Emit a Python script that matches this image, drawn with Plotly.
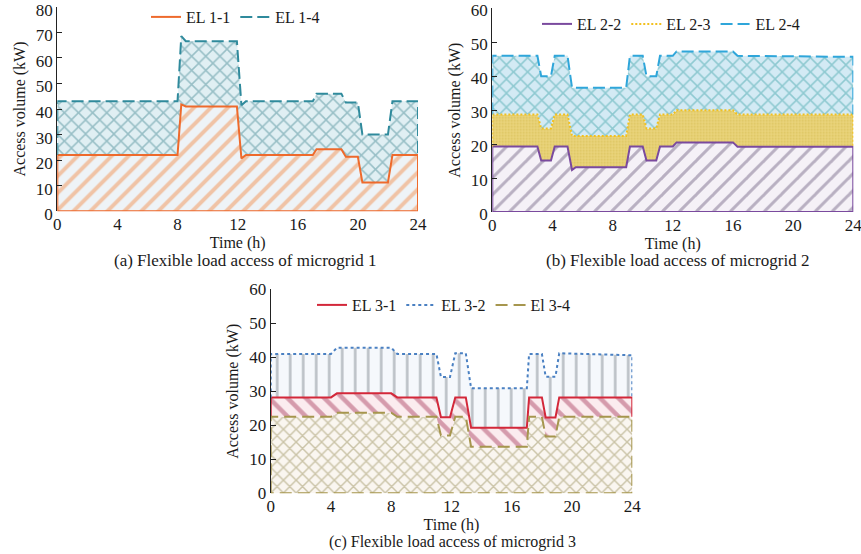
import plotly.graph_objects as go

# ---------------- data ----------------
# Panel (a) microgrid 1
t_a = [0, 8.0, 8.25, 8.55, 11.95, 12.25, 12.55, 17.0, 17.25, 18.9, 19.2, 20.0, 20.3, 22.0, 22.3, 24]
el_1_1 = [22, 22, 41.8, 41, 41, 20.7, 22, 22, 24.3, 24.3, 21.3, 21.3, 11.3, 11.3, 22, 22]
el_1_4 = [43, 43, 68.5, 66.5, 66.5, 41.5, 43, 43, 46, 46, 42.5, 42.5, 30, 30, 43, 43]

# Panel (b) microgrid 2
t_b = [0, 3.0, 3.25, 3.9, 4.15, 5.0, 5.3, 5.55, 8.9, 9.15, 10.0, 10.25, 10.9, 11.15, 12.0, 12.25, 16.0, 16.3, 24]
el_2_2 = [19.3, 19.3, 15.2, 15.2, 19.3, 19.3, 12.4, 13.2, 13.2, 19.3, 19.3, 15.2, 15.2, 19.3, 19.3, 20.5, 20.5, 19.2, 19.2]
el_2_3 = [28.7, 28.7, 24.6, 24.6, 28.7, 28.7, 22.4, 22.4, 22.4, 28.7, 28.7, 24.6, 24.6, 28.7, 28.7, 30, 30, 28.7, 28.7]
el_2_4 = [46, 46, 40, 40, 46, 46, 36.6, 36.6, 36.6, 46, 46, 40, 40, 46, 46, 47.3, 47.3, 46, 45.7]

# Panel (c) microgrid 3
t_c = [0, 4.0, 4.4, 8.0, 8.4, 11.0, 11.3, 11.9, 12.25, 12.95, 13.3, 17.0, 17.15, 18.0, 18.25, 18.9, 19.15, 24]
el_3_1 = [28.2, 28.2, 29.4, 29.4, 28.2, 28.2, 22.4, 22.4, 28.2, 28.2, 19.3, 19.3, 28.2, 28.2, 22.3, 22.3, 28.2, 28.2]
el_3_2 = [41, 41, 42.8, 42.8, 41, 41, 34.2, 34.2, 41.2, 41.2, 30.9, 30.9, 41, 41, 34.3, 34.3, 41.2, 40.6]
el_3_4 = [22.5, 22.5, 23.7, 23.7, 22.5, 22.5, 17, 17, 22.5, 22.5, 13.7, 13.7, 22.5, 22.5, 16.7, 16.7, 22.5, 22.5]

x_ticks = [0, 4, 8, 12, 16, 20, 24]
y_ticks_a = [0, 10, 20, 30, 40, 50, 60, 70, 80]
y_ticks_bc = [0, 10, 20, 30, 40, 50, 60]

captions = ["(a) Flexible load access of microgrid 1",
            "(b) Flexible load access of microgrid 2",
            "(c) Flexible load access of microgrid 3"]

FONT = "Liberation Serif"
TXT = "#1a1a1a"

fig = go.Figure()


def add_fill(t, y, xa, ya, fill, shape, fg, bg, size, solidity):
    fig.add_trace(go.Scatter(
        x=t, y=y, xaxis=xa, yaxis=ya, mode="lines", line=dict(width=0),
        fill=fill, fillcolor=bg,
        fillpattern=dict(shape=shape, fgcolor=fg, bgcolor=bg, size=size, solidity=solidity),
        showlegend=False, hoverinfo="skip"))


def add_outline(t, y, lower, xa, ya, name, color, dash, width, legend):
    if lower is None:
        xs = [t[0]] + list(t) + [t[-1], t[0]]
        ys = [0] + list(y) + [0, 0]
    else:
        xs = [t[0]] + list(t) + [t[-1]]
        ys = [lower[0]] + list(y) + [lower[-1]]
    fig.add_trace(go.Scatter(
        x=xs, y=ys, xaxis=xa, yaxis=ya, mode="lines", name=name,
        line=dict(color=color, width=width, dash=dash), legend=legend,
        hoverinfo="skip"))


# ---- panel a ----
c_or = "#ee6a2c"
c_teal = "#2f8a9c"
add_fill(t_a, el_1_1, "x", "y", "tozeroy", "/", "#f29355", "#eef3f7", 12, 0.33)
add_fill(t_a, el_1_4, "x", "y", "tonexty", "x", "#4f8f99", "#e0eff3", 10, 0.28)
add_outline(t_a, el_1_1, None, "x", "y", "EL 1-1", c_or, "solid", 2, "legend")
add_outline(t_a, el_1_4, el_1_1, "x", "y", "EL 1-4", c_teal, "12px,5px", 2, "legend")

# ---- panel b ----
c_pur = "#7a4a9e"
c_yel = "#f2c01e"
c_blu = "#2fa6da"
add_fill(t_b, el_2_2, "x2", "y2", "tozeroy", "/", "#7d6f8e", "#f5f1f7", 12, 0.25)
add_fill(t_b, el_2_3, "x2", "y2", "tonexty", ".", "#cdb13f", "#e9d47c", 3, 0.3)
add_fill(t_b, el_2_4, "x2", "y2", "tonexty", "x", "#4aa8ad", "#d3eaf4", 10, 0.28)
add_outline(t_b, el_2_2, None, "x2", "y2", "EL 2-2", c_pur, "solid", 2, "legend2")
add_outline(t_b, el_2_3, el_2_2, "x2", "y2", "EL 2-3", c_yel, "2px,2px", 2, "legend2")
add_outline(t_b, el_2_4, el_2_3, "x2", "y2", "EL 2-4", c_blu, "12px,5px", 2, "legend2")

# ---- panel c ----
c_red = "#d3283a"
c_b2 = "#4a80c2"
c_ol = "#a6964e"
add_fill(t_c, el_3_4, "x3", "y3", "tozeroy", "x", "#9c9260", "#faf6f0", 9, 0.3)
add_fill(t_c, el_3_1, "x3", "y3", "tonexty", "\\", "#b04a6a", "#fbecef", 13, 0.35)
add_fill(t_c, el_3_2, "x3", "y3", "tonexty", "|", "#7f878f", "#f5f8fc", 13, 0.2)
add_outline(t_c, el_3_1, el_3_4, "x3", "y3", "EL 3-1", c_red, "solid", 2, "legend3")
add_outline(t_c, el_3_2, el_3_1, "x3", "y3", "EL 3-2", c_b2, "3px,3px", 2, "legend3")
add_outline(t_c, el_3_4, None, "x3", "y3", "El 3-4", c_ol, "12px,6px", 2, "legend3")

W, H = 861, 554


def px_x(p):
    return p / W


def px_y(p):
    return 1 - p / H


tickfont = dict(family=FONT, size=17, color=TXT)
titlefont = dict(family=FONT, size=16, color=TXT)


def xax(domain, anchor):
    return dict(domain=domain, anchor=anchor, range=[0, 24], tickvals=x_ticks,
                showline=False, ticks="", showgrid=False, zeroline=False,
                automargin=False, ticklabelstandoff=1, ticklabeloverflow="allow",
                tickfont=tickfont, title=dict(text="Time (h)", font=titlefont, standoff=0))


def yax(domain, anchor, rng, tv, shift):
    return dict(domain=domain, anchor=anchor, range=rng, tickvals=tv,
                showline=True, linecolor="#222", linewidth=1.3, ticks="inside",
                ticklen=5, tickcolor="#222", showgrid=False, zeroline=False,
                automargin=False, ticklabeloverflow="allow", tickfont=tickfont,
                ticklabelshift=shift,
                title=dict(text="Access volume (kW)", font=titlefont, standoff=6))


leg_common = dict(orientation="h", bgcolor="rgba(0,0,0,0)", font=dict(family=FONT, size=16, color=TXT),
                  xanchor="left", yanchor="middle", itemclick=False, traceorder="normal")

fig.update_layout(
    width=W, height=H, margin=dict(l=0, r=0, t=0, b=0, autoexpand=False),
    paper_bgcolor="white", plot_bgcolor="white",
    font=dict(family=FONT, color=TXT),
    xaxis=xax([px_x(57.3), px_x(418)], "y"),
    yaxis=yax([px_y(211.3), px_y(6.7)], "x", [0, 80], y_ticks_a, 3),
    xaxis2=xax([px_x(492.3), px_x(853.3)], "y2"),
    yaxis2=yax([px_y(212), px_y(8.3)], "x2", [0, 60], y_ticks_bc, 2),
    xaxis3=xax([px_x(270.7), px_x(632.3)], "y3"),
    yaxis3=yax([px_y(493.3), px_y(289.3)], "x3", [0, 60], y_ticks_bc, 0),
    legend=dict(x=px_x(146), y=px_y(17), **leg_common),
    legend2=dict(x=px_x(537), y=px_y(24), **leg_common),
    legend3=dict(x=px_x(312), y=px_y(305), **leg_common),
    showlegend=True,
)

cap_pos = [(245, 260, 17), (677, 260, 17), (452, 542, 16)]
for text, (cx, cy, fs) in zip(captions, cap_pos):
    fig.add_annotation(text=text, x=px_x(cx), y=px_y(cy), xref="paper", yref="paper",
                       showarrow=False, xanchor="center", yanchor="middle",
                       font=dict(family=FONT, size=fs, color=TXT))

fig.write_html("out.html", config={"displayModeBar": False},
               post_script="document.body.style.margin='0px';")
